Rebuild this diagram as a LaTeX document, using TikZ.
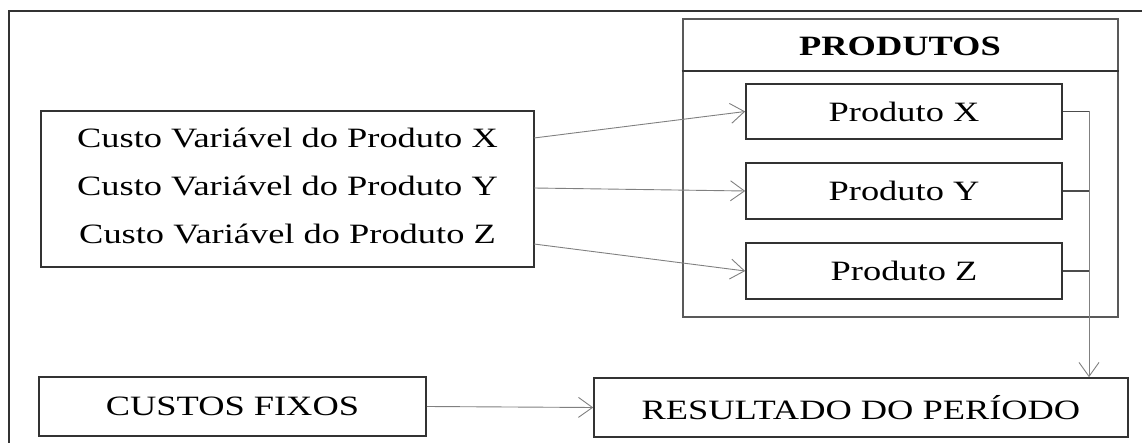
\documentclass[tikz,border=0pt]{standalone}
\usepackage{fontspec}
\setmainfont{Liberation Serif}[FakeStretch=1.3]
\usetikzlibrary{arrows.meta}
\tikzset{
  box/.style={draw=black!80, line width=1.6pt, minimum height=56pt, inner sep=0pt},
  link/.style={draw=black!50, line width=0.9pt, -{Straight Barb[length=14pt,width=20pt]}},
  wire/.style={draw=black!70, line width=1.2pt},
}

\begin{document}
\begin{tikzpicture}[x=1pt,y=-1pt,font=\fontsize{28}{34}\selectfont]
  \useasboundingbox (0,0) rectangle (1142,443);
  \draw[black!80, line width=2pt] (9,443) -- (9,11) -- (1142,11);

  \path
  (287.5,189) node[box, minimum width=493pt, minimum height=156pt](custos) {}
  (287.5,138) node(lx) {Custo Variável do Produto X}
  (287.5,186) node(ly) {Custo Variável do Produto Y}
  (287.5,234) node(lz) {Custo Variável do Produto Z}
  (900.5,168) node[box, draw=black!65, line width=2.6pt, minimum width=435pt, minimum height=298pt](produtos) {}
  (900,46) node(titulo) {\bfseries PRODUTOS}
  (904,111.5) node[box, minimum width=316pt, minimum height=55pt](px) {Produto X}
  (904,191) node[box, minimum width=316pt](py) {Produto Y}
  (904,271) node[box, minimum width=316pt](pz) {Produto Z}
  (232.5,406.5) node[box, minimum width=387pt, minimum height=59pt](fixos) {CUSTOS FIXOS}
  (861,407.5) node[box, minimum width=534pt, minimum height=59pt](resultado) {RESULTADO DO PERÍODO}
  ;

  \coordinate (sx) at (534,138);
  \coordinate (sy) at (534,188);
  \coordinate (sz) at (534,244);
  \coordinate (bus) at (1089,111.5);

  \draw[black!80, line width=1.6pt] (produtos.west |- 0,71) -- (produtos.east |- 0,71);

  \draw[link] (sx) -- (px.west);
  \draw[link] (sy) -- (py.west);
  \draw[link] (sz) -- (pz.west);

  \draw[wire] (px.east) -- (bus);
  \draw[wire] (py.east) -- (bus |- py.east);
  \draw[wire] (pz.east) -- (bus |- pz.east);
  \draw[link] (bus) -- (bus |- resultado.north);

  \draw[link] (fixos.east) -- (resultado.west);
\end{tikzpicture}
\end{document}
